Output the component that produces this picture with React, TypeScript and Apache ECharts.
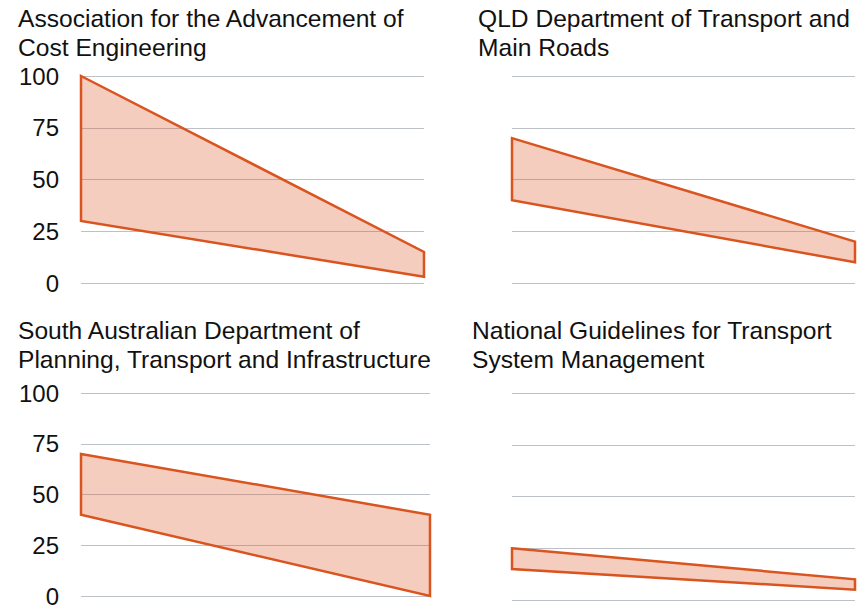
import React, { useEffect, useRef } from "react";
import * as echarts from "echarts";

const titles = [
  "Association for the Advancement of\nCost Engineering",
  "QLD Department of Transport and\nMain Roads",
  "South Australian Department of\nPlanning, Transport and Infrastructure",
  "National Guidelines for Transport\nSystem Management",
];
const upperStart = [100, 70, 70, 25];
const upperEnd = [15, 20, 40, 10];
const lowerStart = [30, 40, 40, 15];
const lowerEnd = [3, 10, 0, 5];
const yTicks = [0, 25, 50, 75, 100];

const grids = [
  { left: 81, top: 76, width: 343, height: 207 },
  { left: 512, top: 76, width: 343, height: 207 },
  { left: 81, top: 393, width: 349, height: 207 },
  { left: 512, top: 393, width: 343, height: 207 },
];
const titlePos = [
  { left: 18, top: 4 },
  { left: 478, top: 4 },
  { left: 18, top: 316 },
  { left: 472, top: 316 },
];

export default function App() {
  const ref = useRef<HTMLDivElement>(null);
  useEffect(() => {
    document.body.style.margin = "0";
    if (!ref.current) return;
    const chart = echarts.init(ref.current, null, { renderer: "svg" });
    const option: any = {
      animation: false,
      backgroundColor: "#ffffff",
      title: titles.map((t, i) => ({
        text: t,
        left: titlePos[i].left,
        top: titlePos[i].top,
        padding: 0,
        textStyle: {
          fontFamily: "Liberation Sans, Arial, sans-serif",
          fontSize: 24.6,
          fontWeight: "normal",
          color: "#111",
          lineHeight: 29,
        },
      })),
      grid: grids.map((g) => ({ ...g, containLabel: false })),
      xAxis: grids.map((_, i) => ({
        type: "value",
        gridIndex: i,
        min: 0,
        max: 1,
        show: false,
      })),
      yAxis: grids.map((_, i) => ({
        type: "value",
        gridIndex: i,
        min: yTicks[0],
        max: yTicks[yTicks.length - 1],
        interval: 25,
        axisLine: { show: false },
        axisTick: { show: false },
        axisLabel: {
          show: i % 2 === 0,
          margin: 22,
          fontFamily: "Liberation Sans, Arial, sans-serif",
          fontSize: 24,
          color: "#111",
        },
        splitLine: { show: true, lineStyle: { color: "#bcc1c7", width: 1 } },
      })),
      series: grids.map((_, i) => ({
        type: "custom",
        xAxisIndex: i,
        yAxisIndex: i,
        clip: false,
        encode: { x: [0, 1], y: [2, 3, 4, 5] },
        data: [[0, 1, upperStart[i], upperEnd[i], lowerStart[i], lowerEnd[i]]],
        renderItem: (params: any, api: any) => {
          const x0 = api.value(0);
          const x1 = api.value(1);
          const pts = [
            api.coord([x0, api.value(2)]),
            api.coord([x1, api.value(3)]),
            api.coord([x1, api.value(5)]),
            api.coord([x0, api.value(4)]),
          ];
          return {
            type: "polygon",
            shape: { points: pts },
            style: {
              fill: "rgba(222, 90, 40, 0.3)",
              stroke: "#d9541f",
              lineWidth: 2.5,
              lineJoin: "miter",
            },
          };
        },
      })),
    };
    chart.setOption(option);
    return () => chart.dispose();
  }, []);
  return <div ref={ref} style={{ width: 867, height: 608 }} />;
}
